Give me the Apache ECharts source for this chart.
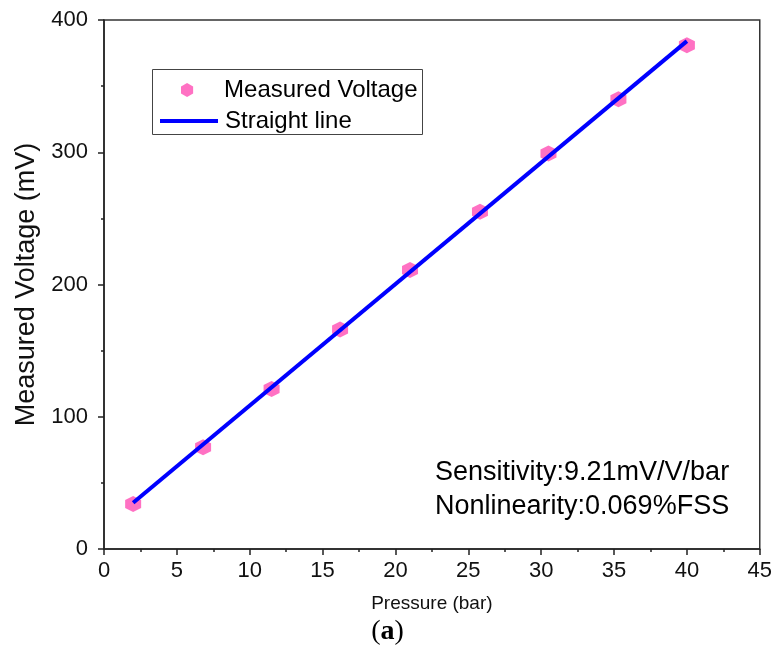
<!DOCTYPE html>
<html>
<head>
<meta charset="utf-8">
<script src="https://cdn.jsdelivr.net/npm/echarts@6/dist/echarts.min.js"></script>
<style>
  html, body { margin: 0; padding: 0; background: #fff; }
  #chart { width: 775px; height: 655px; }
</style>
</head>
<body>
<div id="chart"></div>
<script>
// measured points
const pressure = [2, 6.8, 11.5, 16.2, 21, 25.8, 30.5, 35.3, 40];
const voltage = [34, 77, 121, 166, 211, 255, 299, 340, 381];
// fitted straight line end points
const fitX = [2, 40];
const fitY = [35, 384];

const hexagon = 'path://M0,-1L0.866,-0.5L0.866,0.5L0,1L-0.866,0.5L-0.866,-0.5Z';
const pink = '#ff4db4';
const blue = '#0000ff';
const font = 'Liberation Sans, Arial, sans-serif';

const chart = echarts.init(document.getElementById('chart'), null, { renderer: 'canvas' });

const option = {
  backgroundColor: '#fff',
  animation: false,
  grid: {
    left: 104, right: 14, top: 20, bottom: 106,
    show: true, borderColor: '#333', borderWidth: 1.5, backgroundColor: 'transparent'
  },
  legend: [{
    data: [{ name: 'Measured Voltage', icon: hexagon }],
    left: 176, top: 73,
    itemWidth: 14, itemHeight: 14,
    textStyle: { fontFamily: font, fontSize: 24, color: '#000', padding: [0, 0, 0, 25] }
  }, {
    data: [{ name: 'Straight line', icon: 'rect' }],
    left: 155, top: 104,
    itemWidth: 58, itemHeight: 4,
    textStyle: { fontFamily: font, fontSize: 24, color: '#000', padding: [0, 0, 0, 2] }
  }],
  xAxis: {
    type: 'value', min: 0, max: 45, interval: 5,
    name: 'Pressure (bar)', nameLocation: 'middle', nameGap: 45,
    nameTextStyle: { fontFamily: font, fontSize: 19, color: '#111' },
    axisLine: { show: true, lineStyle: { color: '#222', width: 1.5 } },
    axisTick: { show: true, inside: false, length: 6, lineStyle: { color: '#222', width: 1.5 } },
    minorTick: { show: true, splitNumber: 2, length: 3, lineStyle: { color: '#222', width: 1.5 } },
    axisLabel: { fontFamily: font, fontSize: 22, color: '#111', margin: 11 },
    splitLine: { show: false }
  },
  yAxis: {
    type: 'value', min: 0, max: 400, interval: 100,
    name: 'Measured Voltage (mV)', nameLocation: 'middle', nameGap: 50,
    nameTextStyle: { fontFamily: font, fontSize: 27, color: '#111' },
    axisLine: { show: true, lineStyle: { color: '#222', width: 1.5 } },
    axisTick: { show: true, inside: false, length: 6, lineStyle: { color: '#222', width: 1.5 } },
    minorTick: { show: true, splitNumber: 2, length: 3, lineStyle: { color: '#222', width: 1.5 } },
    axisLabel: { fontFamily: font, fontSize: 22, color: '#111', margin: 16 },
    splitLine: { show: false }
  },
  series: [{
    name: 'Measured Voltage',
    type: 'scatter',
    symbol: hexagon,
    symbolSize: 16,
    itemStyle: { color: pink },
    data: pressure.map((p, i) => [p, voltage[i]]),
    z: 2
  }, {
    name: 'Straight line',
    type: 'line',
    symbol: 'none',
    lineStyle: { color: blue, width: 4 },
    itemStyle: { color: blue },
    data: fitX.map((p, i) => [p, fitY[i]]),
    z: 3
  }],
  graphic: [{
    type: 'rect',
    shape: { x: 152.5, y: 69.5, width: 270, height: 65 },
    style: { fill: 'none', stroke: '#444', lineWidth: 1 }
  }, {
    type: 'text', left: 435, top: 459,
    style: { text: 'Sensitivity:9.21mV/V/bar', font: '27px ' + font, fill: '#000' }
  }, {
    type: 'text', left: 435, top: 493,
    style: { text: 'Nonlinearity:0.069%FSS', font: '27px ' + font, fill: '#000' }
  }, {
    type: 'text', left: 'center', top: 618,
    style: {
      text: '({b|a})',
      font: '28px Liberation Serif, serif', fill: '#000',
      rich: { b: { fontFamily: 'Liberation Serif, serif', fontSize: 28, fontWeight: 'bold', fill: '#000' } }
    }
  }]
};

chart.setOption(option);
</script>
</body>
</html>
